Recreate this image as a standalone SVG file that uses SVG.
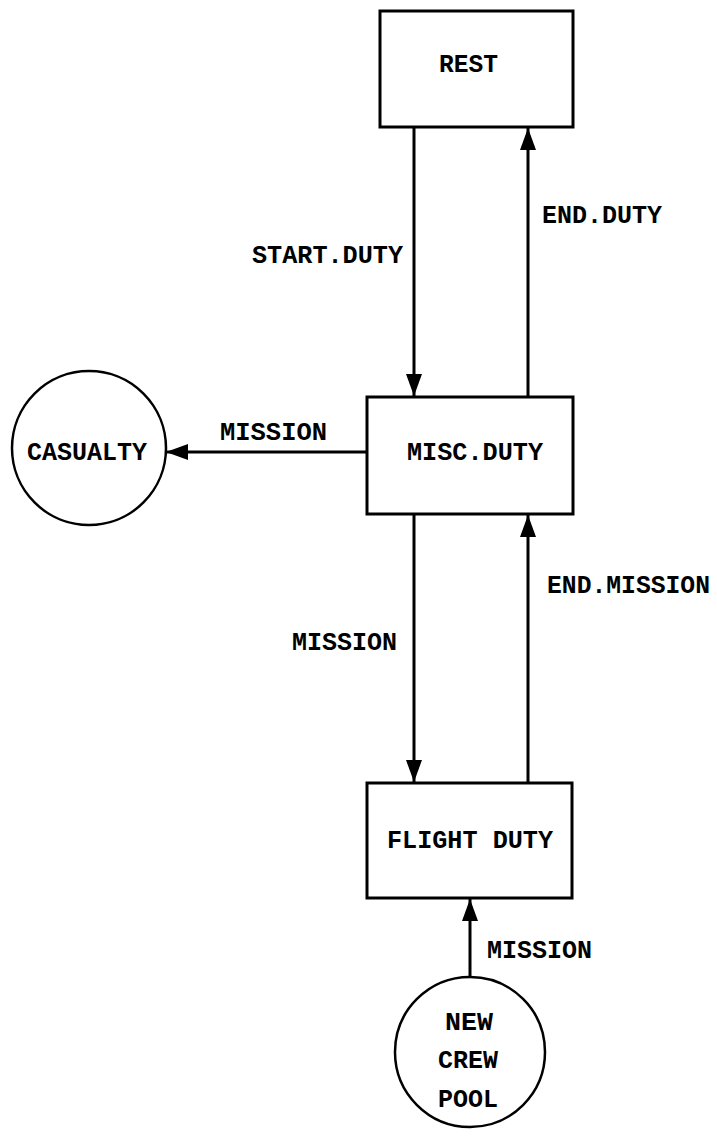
<svg xmlns="http://www.w3.org/2000/svg" width="717" height="1138" viewBox="0 0 717 1138">
<style>
.box{fill:#fff;stroke:#000;stroke-width:3}
.circ{fill:#fff;stroke:#000;stroke-width:2.5}
.edge{fill:none;stroke:#000;stroke-width:3}
.t{font-family:"Liberation Mono","Courier New",monospace;font-weight:bold;font-size:25px;fill:#000}
</style>
<defs>
<marker id="ah" markerUnits="userSpaceOnUse" markerWidth="24" markerHeight="16" refX="22" refY="8" orient="auto">
<path d="M0,0 L22,8 L0,16 Z" fill="#000"/>
</marker>
</defs>
<g id="connectors">
<line class="edge" x1="414" y1="127" x2="414" y2="396" marker-end="url(#ah)"/>
<line class="edge" x1="528" y1="397" x2="528" y2="128" marker-end="url(#ah)"/>
<line class="edge" x1="367" y1="452" x2="166" y2="452" marker-end="url(#ah)"/>
<line class="edge" x1="414" y1="514" x2="414" y2="782" marker-end="url(#ah)"/>
<line class="edge" x1="528" y1="783" x2="528" y2="515" marker-end="url(#ah)"/>
<line class="edge" x1="470" y1="977" x2="470" y2="899" marker-end="url(#ah)"/>
<text class="t" x="252" y="263" textLength="151" lengthAdjust="spacingAndGlyphs">START.DUTY</text>
<text class="t" x="542" y="223" textLength="120" lengthAdjust="spacingAndGlyphs">END.DUTY</text>
<text class="t" x="220" y="440" textLength="107" lengthAdjust="spacingAndGlyphs">MISSION</text>
<text class="t" x="292" y="650" textLength="105" lengthAdjust="spacingAndGlyphs">MISSION</text>
<text class="t" x="547" y="593" textLength="163" lengthAdjust="spacingAndGlyphs">END.MISSION</text>
<text class="t" x="487" y="958" textLength="105" lengthAdjust="spacingAndGlyphs">MISSION</text>
</g>
<g id="rest">
<rect class="box" x="380" y="11" width="193" height="116"/>
<text class="t" x="439" y="72" textLength="59" lengthAdjust="spacingAndGlyphs">REST</text>
</g>
<g id="misc-duty">
<rect class="box" x="367" y="397" width="206" height="117"/>
<text class="t" x="407" y="460" textLength="136" lengthAdjust="spacingAndGlyphs">MISC.DUTY</text>
</g>
<g id="casualty">
<circle class="circ" cx="89" cy="448" r="77"/>
<text class="t" x="27" y="460" textLength="120" lengthAdjust="spacingAndGlyphs">CASUALTY</text>
</g>
<g id="flight-duty">
<rect class="box" x="367" y="783" width="205" height="115"/>
<text class="t" x="387" y="848" textLength="166" lengthAdjust="spacingAndGlyphs">FLIGHT DUTY</text>
</g>
<g id="new-crew-pool">
<circle class="circ" cx="470" cy="1052" r="75"/>
<text class="t" x="445" y="1030" textLength="48" lengthAdjust="spacingAndGlyphs">NEW</text>
<text class="t" x="438" y="1068" textLength="60" lengthAdjust="spacingAndGlyphs">CREW</text>
<text class="t" x="438" y="1107" textLength="60" lengthAdjust="spacingAndGlyphs">POOL</text>
</g>
</svg>
